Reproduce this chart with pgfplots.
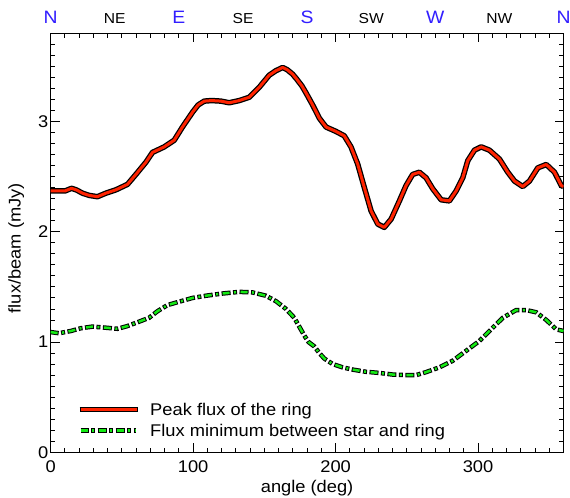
\documentclass[border=0pt]{standalone}
\usepackage{fontspec}
\setmainfont{Liberation Sans}[FakeStretch=1.08]
\usepackage{pgfplots}
\usepackage{pgfplotstable}
\pgfplotsset{compat=1.18}
\definecolor{compassblue}{RGB}{50,30,255}
\definecolor{ringred}{RGB}{255,35,0}
\definecolor{mingreen}{RGB}{20,235,20}

\pgfplotstableread{
deg flux
0 2.37
5 2.37
10 2.37
14.6 2.394
18 2.38
22.3 2.35
27 2.33
32.8 2.318
38.7 2.35
45.7 2.38
53.9 2.43
59.8 2.52
66.8 2.63
71.5 2.72
79.7 2.77
86.7 2.83
92.5 2.95
99.6 3.085
103.5 3.15
107.8 3.185
113 3.19
119.5 3.185
125.3 3.17
132.4 3.19
139.4 3.22
146.4 3.31
153.4 3.42
158 3.46
162.8 3.49
166 3.47
169.8 3.43
173 3.38
176.5 3.32
179.2 3.26
183.9 3.15
188.6 3.03
193.3 2.95
200.3 2.91
206.1 2.87
210.8 2.77
215.5 2.615
220.2 2.40
224.9 2.19
229.6 2.07
234.2 2.04
239 2.115
244.8 2.28
249.5 2.42
254.1 2.52
258.8 2.54
263.5 2.49
268.2 2.39
274.1 2.29
279.9 2.28
284.6 2.37
289.3 2.49
292.8 2.645
297.5 2.74
302.2 2.77
308 2.74
315 2.66
320.9 2.54
325.6 2.46
331.4 2.41
336.1 2.46
342 2.58
347.9 2.61
353.7 2.54
358.4 2.42
360 2.41
}\peakdata

\pgfplotstableread{
deg flux
0 1.09
5.9 1.08
14.1 1.10
21.1 1.125
29.3 1.14
38.7 1.13
46.9 1.12
53.9 1.145
62.1 1.185
69.1 1.22
75 1.28
82 1.335
90.2 1.366
99.6 1.40
109 1.42
120.6 1.44
132.4 1.455
141.7 1.45
151.1 1.42
158.2 1.37
165.2 1.30
171 1.22
174.5 1.14
178 1.06
181 1.0
185.1 0.96
188.6 0.90
192.1 0.85
198 0.80
205 0.77
212 0.75
221.4 0.73
230.7 0.72
240.1 0.705
249.5 0.70
256.5 0.70
263.5 0.727
272.8 0.77
282.2 0.83
291.6 0.92
301 1.01
309.2 1.115
317.4 1.22
326.8 1.29
333.8 1.29
340.8 1.27
347.9 1.20
354.9 1.115
360 1.10
}\mindata

\tikzset{
  minblack/.style={black, line width=4.5bp, dash pattern=on 9bp off 2.5bp on 4bp off 2.5bp, dash phase=1bp},
  mingreenl/.style={mingreen, line width=2.5bp, dash pattern=on 7bp off 4.5bp on 2bp off 4.5bp},
}

\begin{document}
\begin{tikzpicture}
\begin{axis}[
  at={(0,0)}, anchor=south west,
  scale only axis, width=512.8bp, height=419bp,
  xmin=0, xmax=360, ymin=0, ymax=3.8,
  xtick={0,100,200,300}, ytick={0,1,2,3},
  minor xtick={10,20,...,350},
  minor ytick={0.1,0.2,...,3.75},
  tick align=inside,
  major tick length=9bp, minor tick length=4.5bp,
  axis line style={line width=1bp},
  every tick/.style={black, line width=0.9bp},
  font=\fontsize{17}{20}\selectfont,
  tick label style={font=\fontsize{17}{20}\selectfont},
  /pgf/number format/assume math mode=true,
  xticklabel shift=5bp,
  yticklabel style={xshift=1bp},
  xlabel={angle (deg)}, ylabel={flux/beam (mJy)},
  every axis x label/.style={at={(axis description cs:0.5,-0.085)}, anchor=center},
  every axis y label/.style={at={(axis description cs:-0.067,0.487)}, rotate=90, anchor=center},
  clip mode=individual,
  legend cell align=left,
  legend style={draw=none, fill=none, inner sep=0pt, outer sep=0pt,
    at={(axis description cs:0.051,0.118)}, anchor=north west,
    row sep=7.2bp,
    nodes={inner sep=0pt, font=\fontsize{17}{20}\selectfont},
    /tikz/every odd column/.append style={column sep=9.5bp}},
]
\addplot[black, line width=5.5bp, line join=round, forget plot] table[x=deg,y=flux] {\peakdata};
\addplot[ringred, line width=3bp, line join=round, forget plot] table[x=deg,y=flux] {\peakdata};
\addplot[minblack, forget plot] table[x=deg,y=flux] {\mindata};
\addplot[mingreenl, forget plot] table[x=deg,y=flux] {\mindata};

\addlegendimage{legend image code/.code={
  \draw[black,line width=5.5bp] (0bp,0bp) -- (58.4bp,0bp);
  \draw[ringred,line width=3bp] (1.25bp,0bp) -- (57.15bp,0bp);}}
\addlegendentry{Peak flux of the ring}
\addlegendimage{legend image code/.code={
  \draw[minblack] (1bp,0bp) -- (56bp,0bp);
  \draw[mingreenl] (1bp,0bp) -- (56bp,0bp);}}
\addlegendentry{Flux minimum between star and ring}

\node[anchor=base, text=compassblue, font=\fontsize{18}{20}\selectfont, yshift=9.3bp] at (axis cs:0,3.8) {N};
\node[anchor=base, text=black, font=\fontsize{14.5}{16}\selectfont, yshift=9.3bp] at (axis cs:45,3.8) {NE};
\node[anchor=base, text=compassblue, font=\fontsize{18}{20}\selectfont, yshift=9.3bp] at (axis cs:90,3.8) {E};
\node[anchor=base, text=black, font=\fontsize{14.5}{16}\selectfont, yshift=9.3bp] at (axis cs:135,3.8) {SE};
\node[anchor=base, text=compassblue, font=\fontsize{18}{20}\selectfont, yshift=9.3bp] at (axis cs:180,3.8) {S};
\node[anchor=base, text=black, font=\fontsize{14.5}{16}\selectfont, yshift=9.3bp] at (axis cs:225,3.8) {SW};
\node[anchor=base, text=compassblue, font=\fontsize{18}{20}\selectfont, yshift=9.3bp] at (axis cs:270,3.8) {W};
\node[anchor=base, text=black, font=\fontsize{14.5}{16}\selectfont, yshift=9.3bp] at (axis cs:315,3.8) {NW};
\node[anchor=base, text=compassblue, font=\fontsize{18}{20}\selectfont, yshift=9.3bp] at (axis cs:360,3.8) {N};
\end{axis}
\pgfresetboundingbox
\path[use as bounding box] (-50.7bp,-45.7bp) rectangle (519.3bp,452.3bp);
\end{tikzpicture}
\end{document}
